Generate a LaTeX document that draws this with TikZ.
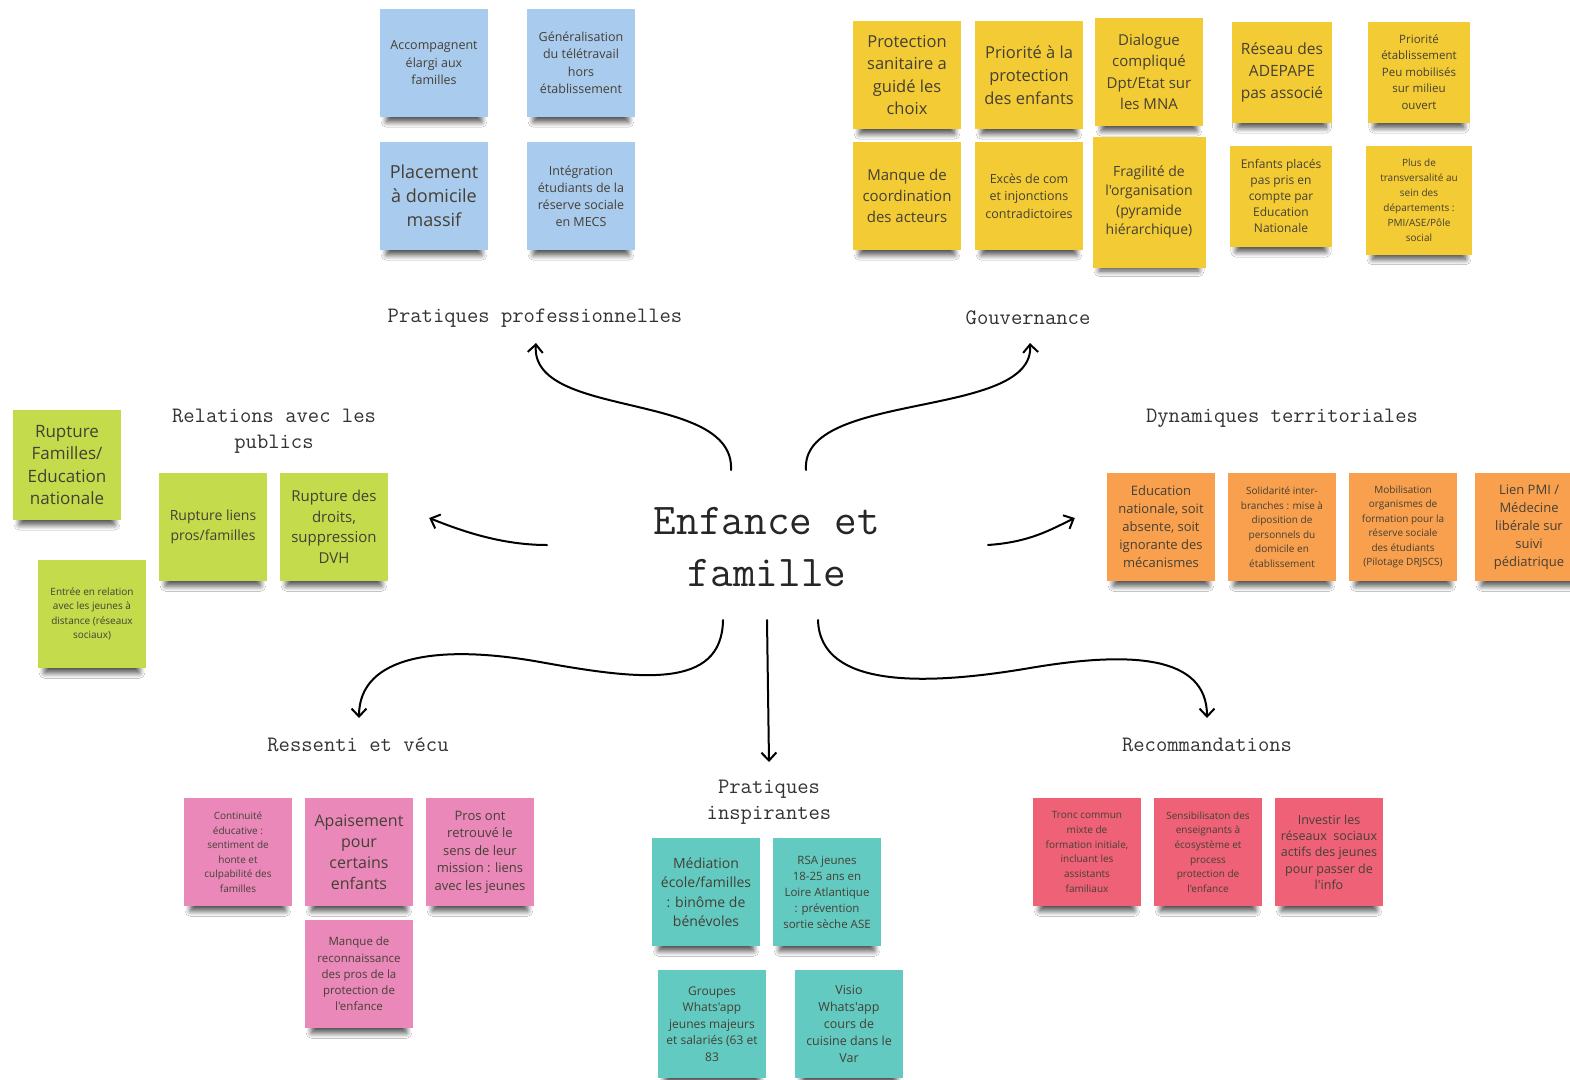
\documentclass[tikz,border=0pt]{standalone}
\usepackage{fontspec}
\newfontfamily\notefont{Open Sans}
\usetikzlibrary{arrows.meta,shadows.blur}
\definecolor{bluenote}{HTML}{A9CBEE}
\definecolor{yellownote}{HTML}{F3CB34}
\definecolor{greennote}{HTML}{C4DB4C}
\definecolor{orangenote}{HTML}{F8A04E}
\definecolor{pinknote}{HTML}{EA88BA}
\definecolor{tealnote}{HTML}{62CAC0}
\definecolor{rednote}{HTML}{EE6176}
\definecolor{notetext}{HTML}{454035}
\definecolor{labeltext}{HTML}{333333}
\tikzset{
  note/.style={rectangle, minimum width=108pt, minimum height=108pt, inner sep=2pt,
    align=center, text=notetext,
    blur shadow={shadow xshift=0pt, shadow yshift=-13pt, shadow scale=.88,
      shadow opacity=70, shadow blur radius=6pt, shadow blur steps=10}},
  fs/.style 2 args={font=\notefont\fontsize{#1}{#2}\selectfont},
  theme/.style={font=\ttfamily\fontsize{22}{26}\selectfont, text=labeltext, align=center},
  core/.style={font=\ttfamily\fontsize{44}{52}\selectfont, text=black!85, align=center},
  link/.style={line width=2pt, line cap=round, -{Straight Barb[length=8pt,width=15pt]}}
}
\begin{document}
\begin{tikzpicture}[x=1pt,y=-1pt]
  \useasboundingbox (0,0) rectangle (1570,1079);
  \fill[white] (0,0) rectangle (1570,1079);

  \node[note, fill=bluenote, fs={12.5}{17.5}] (b1) at (434,63) {Accompagnent\\élargi aux\\familles};
  \node[note, fill=bluenote, fs={12.5}{17.5}] (b2) at (581,63) {Généralisation\\du télétravail\\hors\\établissement};
  \node[note, fill=bluenote, fs={18}{24}] (b3) at (434,196) {Placement\\à domicile\\massif};
  \node[note, fill=bluenote, fs={12.5}{17}] (b4) at (581,196) {Intégration\\étudiants de la\\réserve sociale\\en MECS};

  \node[note, fill=yellownote, fs={16.5}{22.5}] (y1) at (907,75) {Protection\\sanitaire a\\guidé les\\choix};
  \node[note, fill=yellownote, fs={16.5}{23}] (y2) at (1029,75) {Priorité à la\\protection\\des enfants};
  \node[note, fill=yellownote, fs={15}{21.5}] (y3) at (1149,72) {Dialogue\\compliqué\\Dpt/Etat sur\\les MNA};
  \node[note, fill=yellownote, fs={15}{21}] (y4) at (907,196) {Manque de\\coordination\\des acteurs};
  \node[note, fill=yellownote, fs={12.5}{17.5}] (y5) at (1029,196) {Excès de com\\et injonctions\\contradictoires};
  \node[note, fill=yellownote, fs={14}{19.5}, minimum width=113pt, minimum height=131pt] (y6) at (1149,202) {Fragilité de\\l'organisation\\(pyramide\\hiérarchique)};
  \node[note, fill=yellownote, fs={15.5}{22}, minimum width=100pt, minimum height=101pt] (y7) at (1282,72) {Réseau des\\ADEPAPE\\pas associé};
  \node[note, fill=yellownote, fs={11.5}{16.5}, minimum width=102pt, minimum height=101pt] (y8) at (1419,72) {Priorité\\établissement\\Peu mobilisés\\sur milieu\\ouvert};
  \node[note, fill=yellownote, fs={12}{16}, minimum width=102pt, minimum height=101pt] (y9) at (1281,196) {Enfants placés\\pas pris en\\compte par\\Education\\Nationale};
  \node[note, fill=yellownote, fs={10}{15}, minimum width=106pt, minimum height=109pt] (y10) at (1419,200) {Plus de\\transversalité au\\sein des\\départements :\\PMI/ASE/Pôle\\social};

  \node[note, fill=greennote, fs={17}{22.5}, minimum height=110pt] (g1) at (67,465) {Rupture\\Familles/\\Education\\nationale};
  \node[note, fill=greennote, fs={10}{14.5}] (g2) at (92,614) {Entrée en relation\\avec les jeunes à\\distance (réseaux\\sociaux)};
  \node[note, fill=greennote, fs={14}{20}] (g3) at (213,527) {Rupture liens\\pros/familles};
  \node[note, fill=greennote, fs={15}{20.5}] (g4) at (334,527) {Rupture des\\droits,\\suppression\\DVH};

  \node[note, fill=orangenote, fs={13}{18}] (o1) at (1161,527) {Education\\nationale, soit\\absente, soit\\ignorante des\\mécanismes};
  \node[note, fill=orangenote, fs={10}{14.5}] (o2) at (1282,527) {Solidarité inter-\\branches : mise à\\diposition de\\personnels du\\domicile en\\établissement};
  \node[note, fill=orangenote, fs={10}{14.5}] (o3) at (1403,527) {Mobilisation\\organismes de\\formation pour la\\réserve sociale\\des étudiants\\(Pilotage DRJSCS)};
  \node[note, fill=orangenote, fs={13}{18}] (o4) at (1529,527) {Lien PMI /\\Médecine\\libérale sur\\suivi\\pédiatrique};

  \node[note, fill=pinknote, fs={10}{14.5}] (p1) at (238,852) {Continuité\\éducative :\\sentiment de\\honte et\\culpabilité des\\familles};
  \node[note, fill=pinknote, fs={16}{21}] (p2) at (359,852) {Apaisement\\pour\\certains\\enfants};
  \node[note, fill=pinknote, fs={13}{17.5}] (p3) at (480,852) {Pros ont\\retrouvé le\\sens de leur\\mission : liens\\avec les jeunes};
  \node[note, fill=pinknote, fs={11.5}{16.3}] (p4) at (359,974) {Manque de\\reconnaissance\\des pros de la\\protection de\\l'enfance};

  \node[note, fill=tealnote, fs={14}{19.5}] (t1) at (706,892) {Médiation\\école/familles\\: binôme de\\bénévoles};
  \node[note, fill=tealnote, fs={11.5}{16}] (t2) at (827,892) {RSA jeunes\\18-25 ans en\\Loire Atlantique\\: prévention\\sortie sèche ASE};
  \node[note, fill=tealnote, fs={12}{16.5}] (t3) at (712,1024) {Groupes\\Whats'app\\jeunes majeurs\\et salariés (63 et\\83};
  \node[note, fill=tealnote, fs={12.5}{17}] (t4) at (849,1024) {Visio\\Whats'app\\cours de\\cuisine dans le\\Var};

  \node[note, fill=rednote, fs={10}{14.8}] (r1) at (1087,852) {Tronc commun\\mixte de\\formation initiale,\\incluant les\\assistants\\familiaux};
  \node[note, fill=rednote, fs={10}{14.6}] (r2) at (1208,852) {Sensibilisaton des\\enseignants à\\écosystème et\\process\\protection de\\l'enfance};
  \node[note, fill=rednote, fs={12.5}{16.3}] (r3) at (1329,852) {Investir les\\réseaux~ sociaux\\actifs des jeunes\\pour passer de\\l'info};

  \node[theme] (pp) at (535,318) {Pratiques professionnelles};
  \node[theme] (gv) at (1028,318) {Gouvernance};
  \node[theme] (rp) at (274,431) {Relations avec les\\publics};
  \node[theme] (dt) at (1282,418) {Dynamiques territoriales};
  \node[theme] (rv) at (358,745) {Ressenti et vécu};
  \node[theme] (pi) at (769,802) {Pratiques\\inspirantes};
  \node[theme] (rc) at (1207,745) {Recommandations};
  \node[core] (core) at (767,547) {Enfance et\\famille};

  \draw[link] ([shift={(-36,-77)}]core.center) .. controls +(4,-80) and +(-6,77) .. ([shift={(1,25)}]pp.center);
  \draw[link] ([shift={(39,-77)}]core.center) .. controls +(-6,-80) and +(5,77) .. ([shift={(2,25)}]gv.center);
  \draw[link] ([shift={(-220,-2)}]core.center) .. controls +(-47,0) and +(30,12) .. ([shift={(41,-9)}]g4.east);
  \draw[link] ([shift={(221,-2)}]core.center) .. controls +(42,-3) and +(-25,12) .. ([shift={(-32,-9)}]o1.west);
  \draw[link] ([shift={(-44,73)}]core.center) .. controls +(-1,70) and +(100,18) .. (540,662)
    .. controls +(-100,-18) and +(0,-63) .. ([shift={(1,-27)}]rv.center);
  \draw[link] ([shift={(0,73)}]core.center) -- ([shift={(0,-40)}]pi.center);
  \draw[link] ([shift={(51,73)}]core.center) .. controls +(2,70) and +(-100,17) .. (1030,668)
    .. controls +(100,-17) and +(0,-63) .. ([shift={(0,-27)}]rc.center);
\end{tikzpicture}
\end{document}
